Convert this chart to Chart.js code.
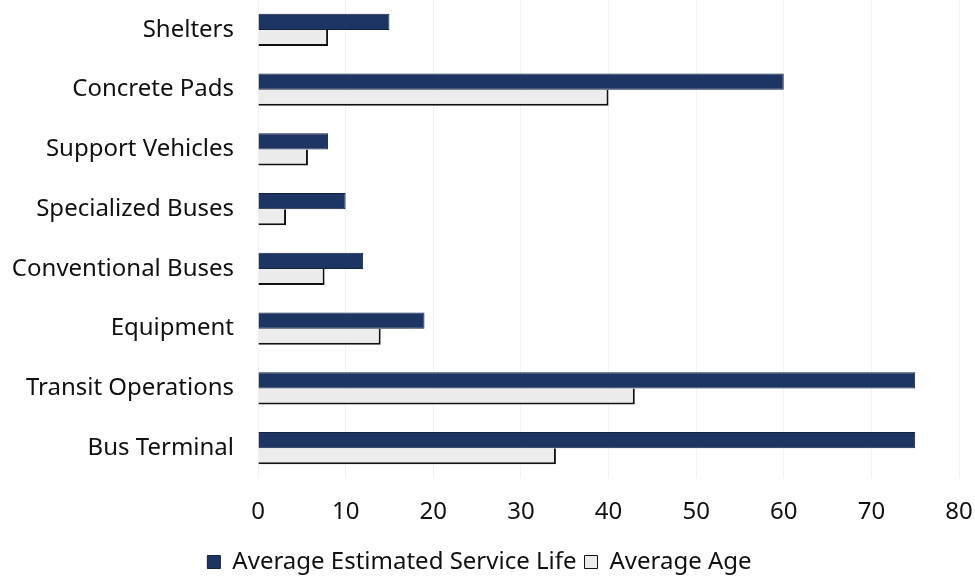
<!DOCTYPE html>
<html><head><meta charset="utf-8">
<script src="https://cdn.jsdelivr.net/npm/chart.js@4"></script>
<style>html,body{margin:0;padding:0;background:#fff;overflow:hidden}#w{width:975px;height:576px}</style>
</head><body><div id="w"><canvas id="c"></canvas></div>
<script>
const categories = ["Shelters","Concrete Pads","Support Vehicles","Specialized Buses","Conventional Buses","Equipment","Transit Operations","Bus Terminal"];
const serviceLife = [15,60,8,10,12,19,75,75];
const averageAge = [8,40,5.7,3.2,7.6,14,43,34];
const xTicks = [0,10,20,30,40,50,60,70,80];
const FONT = "'Noto Sans', sans-serif";
Chart.defaults.font.family = FONT;
Chart.defaults.color = '#111';
new Chart(document.getElementById('c'), {
  type: 'bar',
  data: { labels: categories, datasets: [
    { label: 'Average Estimated Service Life', data: serviceLife, backgroundColor: '#1d3562', borderColor: '#14213d', borderWidth: 1, categoryPercentage: 0.54, barPercentage: 1 },
    { label: 'Average Age', data: averageAge, backgroundColor: '#ececec', borderColor: '#111', borderWidth: {top:0,left:0,right:2,bottom:2}, borderSkipped: false, categoryPercentage: 0.54, barPercentage: 1 }
  ]},
  options: {
    indexAxis: 'y', responsive: true, maintainAspectRatio: false, animation: false,
    layout: { padding: { left: 0, right: 16, top: 0, bottom: -8 } },
    scales: {
      x: { min: 0, max: 80, afterBuildTicks: a => { a.ticks = xTicks.map(v => ({value: v})); },
           afterFit: s => { s.paddingLeft = 0; s.paddingRight = 0; s.height = 64; },
           grid: { color: '#f2f2f2', drawTicks: false }, border: { display: false },
           ticks: { font: { size: 24 }, padding: 20, color: '#111' } },
      y: { afterFit: s => { s.paddingTop = 0; s.paddingBottom = 0; s.width = 258; },
           grid: { display: false, drawTicks: false }, border: { display: false },
           ticks: { font: { size: 24 }, padding: 24, color: '#111' } }
    },
    plugins: {
      legend: { position: 'bottom', labels: { font: { size: 24 }, boxWidth: 13, boxHeight: 13, padding: 8, color: '#111' } },
      tooltip: { enabled: false }
    }
  }
});
</script></body></html>
